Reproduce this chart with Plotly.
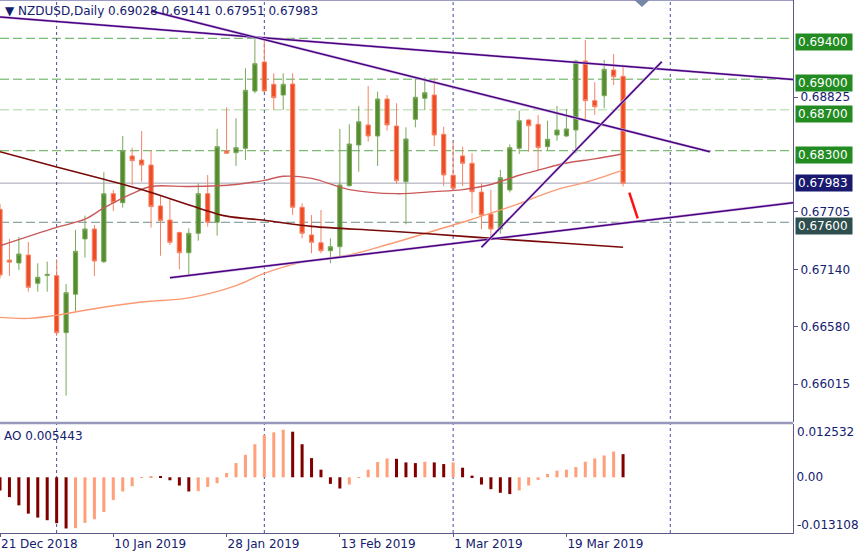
import plotly.graph_objects as go

# ---------------- data ----------------
dates = ["2018-12-21", "2018-12-24", "2018-12-26", "2018-12-27", "2018-12-28", "2018-12-31",
         "2019-01-02", "2019-01-03", "2019-01-04", "2019-01-07", "2019-01-08", "2019-01-09",
         "2019-01-10", "2019-01-11", "2019-01-14", "2019-01-15", "2019-01-16", "2019-01-17",
         "2019-01-18", "2019-01-21", "2019-01-22", "2019-01-23", "2019-01-24", "2019-01-25",
         "2019-01-28", "2019-01-29", "2019-01-30", "2019-01-31", "2019-02-01", "2019-02-04",
         "2019-02-05", "2019-02-06", "2019-02-07", "2019-02-08", "2019-02-11", "2019-02-12",
         "2019-02-13", "2019-02-14", "2019-02-15", "2019-02-18", "2019-02-19", "2019-02-20",
         "2019-02-21", "2019-02-22", "2019-02-25", "2019-02-26", "2019-02-27", "2019-02-28",
         "2019-03-01", "2019-03-04", "2019-03-05", "2019-03-06", "2019-03-07", "2019-03-08",
         "2019-03-11", "2019-03-12", "2019-03-13", "2019-03-14", "2019-03-15", "2019-03-18",
         "2019-03-19", "2019-03-20", "2019-03-21", "2019-03-22", "2019-03-25", "2019-03-26",
         "2019-03-27"]

opens = [0.67727, 0.67230, 0.67202, 0.67280, 0.67003, 0.67080, 0.67078, 0.66520, 0.66896, 0.67437,
         0.67534, 0.67215, 0.67880, 0.67792, 0.68249, 0.68209, 0.68160, 0.67760, 0.67622, 0.67500,
         0.67302, 0.67492, 0.67880, 0.67600, 0.68298, 0.68281, 0.68324, 0.68884, 0.69168, 0.68950,
         0.68845, 0.68953, 0.67747, 0.67476, 0.67400, 0.67322, 0.67361, 0.67958, 0.68356, 0.68552,
         0.68444, 0.68806, 0.68542, 0.67997, 0.68608, 0.68813, 0.68845, 0.68461, 0.68060, 0.68249,
         0.68177, 0.67896, 0.67681, 0.67534, 0.67916, 0.68324, 0.68601, 0.68559, 0.68340, 0.68454,
         0.68444, 0.68503, 0.69178, 0.68790, 0.68838, 0.69090, 0.69028]
highs = [0.67780, 0.67437, 0.67456, 0.67407, 0.67199, 0.67215, 0.67238, 0.66996, 0.67525, 0.67665,
         0.67574, 0.68090, 0.67916, 0.68444, 0.68330, 0.68493, 0.68300, 0.67860, 0.67828, 0.67510,
         0.67541, 0.67982, 0.68063, 0.68513, 0.68725, 0.68617, 0.69107, 0.69400, 0.69422, 0.69058,
         0.69058, 0.69058, 0.67786, 0.67671, 0.67720, 0.67443, 0.68513, 0.68559, 0.68738, 0.68933,
         0.68878, 0.68845, 0.68764, 0.68529, 0.69024, 0.69018, 0.69009, 0.68535, 0.68389, 0.68340,
         0.68275, 0.67986, 0.67916, 0.68112, 0.68363, 0.68692, 0.68608, 0.68650, 0.68594, 0.68738,
         0.68708, 0.69185, 0.69383, 0.68970, 0.69188, 0.69246, 0.69141]
lows = [0.67050, 0.67075, 0.67133, 0.66921, 0.66921, 0.66921, 0.66488, 0.65904, 0.66725, 0.67254,
        0.67075, 0.67200, 0.67710, 0.67743, 0.67965, 0.67997, 0.67547, 0.67273, 0.67378, 0.67140,
        0.67084, 0.67420, 0.67557, 0.67469, 0.68270, 0.68151, 0.68210, 0.68862, 0.68880, 0.68699,
        0.68699, 0.67671, 0.67443, 0.67297, 0.67297, 0.67199, 0.67264, 0.67948, 0.68095, 0.68389,
        0.68151, 0.68496, 0.67975, 0.67580, 0.68529, 0.68699, 0.68346, 0.67955, 0.67923, 0.67955,
        0.67688, 0.67531, 0.67453, 0.67486, 0.67893, 0.68268, 0.68291, 0.68105, 0.68307, 0.68398,
        0.68432, 0.68275, 0.68584, 0.68650, 0.68715, 0.68943, 0.67951]
closes = [0.67084, 0.67210, 0.67290, 0.66964, 0.67062, 0.67090, 0.66520, 0.66911, 0.67316, 0.67534,
          0.67221, 0.67880, 0.67792, 0.68300, 0.68203, 0.68160, 0.67753, 0.67616, 0.67404, 0.67302,
          0.67492, 0.67880, 0.67600, 0.68340, 0.68275, 0.68330, 0.68891, 0.69152, 0.68884, 0.68819,
          0.68950, 0.67747, 0.67492, 0.67404, 0.67322, 0.67361, 0.67965, 0.68366, 0.68584, 0.68444,
          0.68806, 0.68552, 0.68007, 0.68415, 0.68823, 0.68868, 0.68454, 0.68063, 0.67933, 0.68177,
          0.67899, 0.67671, 0.67534, 0.68036, 0.68330, 0.68594, 0.68545, 0.68330, 0.68412, 0.68503,
          0.68513, 0.69178, 0.68790, 0.68731, 0.69097, 0.69024, 0.67983]

ao_values = [-0.00311, -0.00466, -0.00660, -0.00855, -0.00948, -0.01010, -0.01080, -0.01204, -0.01197, -0.01072,
             -0.00987, -0.00816, -0.00536, -0.00334, -0.00210, -0.00016, 0.00031, 0.00016, -0.00070, -0.00194,
             -0.00334, -0.00326, -0.00225, -0.00140, 0.00101, 0.00334, 0.00528, 0.00777, 0.00995, 0.01057,
             0.01119, 0.01072, 0.00777, 0.00451, 0.00179, -0.00155, -0.00264, -0.00171, -0.00016, 0.00179,
             0.00357, 0.00443, 0.00435, 0.00350, 0.00334, 0.00365, 0.00350, 0.00311, 0.00350, 0.00225,
             0.00039, -0.00171, -0.00280, -0.00365, -0.00396, -0.00311, -0.00194, -0.00062, 0.00078, 0.00155,
             0.00179, 0.00241, 0.00365, 0.00443, 0.00513, 0.00606, 0.005443]

# moving averages (bar index, value)
ma_slow_idx = [0, 6, 11, 15, 21, 24, 28, 33, 40, 45, 54, 59, 66]
ma_slow = [0.6829, 0.6814, 0.6802, 0.6792, 0.6774, 0.6766, 0.6762, 0.6756, 0.6752, 0.6749, 0.6743, 0.6740, 0.67355]
ma_mid_idx = [0, 6, 9, 11, 14, 16, 20, 25, 28, 30, 33, 37, 42, 46, 49, 52, 55, 57, 60, 63, 66]
ma_mid = [0.6737, 0.6755, 0.6763, 0.6774, 0.6788, 0.6795, 0.6795, 0.6797, 0.6801, 0.6805, 0.6803,
          0.6792, 0.6788, 0.6790, 0.6792, 0.6797, 0.6806, 0.6811, 0.6818, 0.6822, 0.6827]
ma_long_idx = [0, 3, 6, 9, 15, 20, 25, 28, 32, 37, 41, 45, 50, 54, 59, 62, 66]
ma_long = [0.6667, 0.6666, 0.6669, 0.6674, 0.6682, 0.6686, 0.6698, 0.6710, 0.6721, 0.6728, 0.6738,
           0.6749, 0.6763, 0.6775, 0.6792, 0.6799, 0.6811]

# trend lines: (start index, start price, end index, end price)
trend_lines = [(0.0, 0.69608, 84.0, 0.68997),
               (16.0, 0.69667, 75.2, 0.68291),
               (18.0, 0.67058, 84.0, 0.67792),
               (51.0, 0.67355, 70.1, 0.69171)]
red_stroke = (66.66, 0.67890, 67.55, 0.67639)

# horizontal levels
level_values = [0.69400, 0.69000, 0.68700, 0.68300, 0.67983, 0.67600]
level_labels = ["0.69400", "0.69000", "0.68700", "0.68300", "0.67983", "0.67600"]
level_line_colors = ["#5aaa50", "#5aaa50", "#a8d6a0", "#5aaa50", "#a2a2b2", "#6f8d8d"]
level_dash = ["9px,4px", "9px,4px", "9px,4px", "9px,4px", "solid", "9px,4px"]
level_box_colors = ["#228b22", "#228b22", "#228b22", "#228b22", "#191970", "#2f4f4f"]
level_box_shift = [-4, -4, -4, -4, 0, -4]

price_ticks = [0.68825, 0.67705, 0.67140, 0.66580, 0.66015]
price_tick_text = ["0.68825", "0.67705", "0.67140", "0.66580", "0.66015"]
ao_max, ao_min = 0.012532, -0.013108

date_tick_idx = [0, 12, 24, 36, 48, 60]
date_tick_text = ["21 Dec 2018", "10 Jan 2019", "28 Jan 2019", "13 Feb 2019", "1 Mar 2019", "19 Mar 2019"]
separator_idx = [6, 28, 48, 71]
shift_marker_idx = 68

title_text = "▼ NZDUSD,Daily 0.69028 0.69141 0.67951 0.67983"
ao_text = "AO 0.005443"

# ---------------- style ----------------
NAVY = "#14206e"
AXIS = "#5a5a8a"
FONT = "DejaVu Sans"
x_idx = list(range(len(dates)))

fig = go.Figure()

fig.add_trace(go.Candlestick(
    x=x_idx, open=opens, high=highs, low=lows, close=closes,
    hovertext=dates, hoverinfo="text",
    increasing=dict(line=dict(color="#79a85a", width=1), fillcolor="#558c2d"),
    decreasing=dict(line=dict(color="#f48466", width=1), fillcolor="#ef4b24"),
    xaxis="x", yaxis="y", showlegend=False))

fig.add_trace(go.Scatter(x=ma_long_idx, y=ma_long, mode="lines", line=dict(color="#fb9a72", width=1.4, shape="spline"),
                         xaxis="x", yaxis="y", hoverinfo="skip"))
fig.add_trace(go.Scatter(x=ma_mid_idx, y=ma_mid, mode="lines", line=dict(color="#c9595a", width=1.4, shape="spline"),
                         xaxis="x", yaxis="y", hoverinfo="skip"))
fig.add_trace(go.Scatter(x=ma_slow_idx, y=ma_slow, mode="lines", line=dict(color="#7a0a0a", width=1.6, shape="spline"),
                         xaxis="x", yaxis="y", hoverinfo="skip"))

for (x0, y0, x1, y1) in trend_lines:
    fig.add_trace(go.Scatter(x=[x0, x1], y=[y0, y1], mode="lines",
                             line=dict(color="#cdbbe2", width=2.6), xaxis="x", yaxis="y", hoverinfo="skip"))
    fig.add_trace(go.Scatter(x=[x0, x1], y=[y0, y1], mode="lines",
                             line=dict(color="#4b0082", width=1.5), xaxis="x", yaxis="y", hoverinfo="skip"))

fig.add_trace(go.Scatter(x=[red_stroke[0], red_stroke[2]], y=[red_stroke[1], red_stroke[3]], mode="lines",
                         line=dict(color="#ff1010", width=2.5), xaxis="x", yaxis="y", hoverinfo="skip"))

ao_colors = []
for i, v in enumerate(ao_values):
    up = i > 0 and v > ao_values[i - 1]
    ao_colors.append("#ffa07a" if up else "#800000")
fig.add_trace(go.Bar(x=x_idx, y=ao_values, width=0.32, marker=dict(color=ao_colors, line=dict(width=0)),
                     xaxis="x2", yaxis="y2", hoverinfo="skip"))

# ---------------- shapes ----------------
shapes = []
for v, c, d in zip(level_values, level_line_colors, level_dash):
    shapes.append(dict(type="line", xref="x domain", yref="y", x0=0, x1=1, y0=v, y1=v,
                       line=dict(color=c, width=1, dash=d), layer="below"))
for s in separator_idx:
    shapes.append(dict(type="line", xref="x", yref="paper", x0=s, x1=s, y0=0, y1=1,
                       line=dict(color="#4a4a9a", width=1, dash="dot"), layer="below"))
# panel separator and top border
shapes.append(dict(type="line", xref="paper", yref="paper", x0=0, x1=1, y0=0.2064, y1=0.2064,
                   line=dict(color="#9797bb", width=2.5)))
shapes.append(dict(type="line", xref="paper", yref="paper", x0=0, x1=1, y0=0.999, y1=0.999,
                   line=dict(color="#9a9ac0", width=1)))
# chart-shift marker
shapes.append(dict(type="path", xref="x", yref="paper",
                   path=f"M {shift_marker_idx - 0.8},1 L {shift_marker_idx + 0.8},1 L {shift_marker_idx},0.987 Z",
                   fillcolor="#7686a6", line=dict(width=0)))

# ---------------- annotations ----------------
ann = []
for v, t, bc, sh in zip(level_values, level_labels, level_box_colors, level_box_shift):
    ann.append(dict(xref="paper", yref="y", x=1, y=v, xanchor="left", yanchor="middle", xshift=2, yshift=sh,
                    text=t, showarrow=False, bgcolor=bc, font=dict(family=FONT, size=12, color="white"),
                    width=52, height=12, borderpad=2, align="left"))
ann.append(dict(xref="paper", yref="y2", x=1, y=ao_max, xanchor="left", yanchor="top", xshift=2, yshift=1,
                text=f"{ao_max:.6f}", showarrow=False, font=dict(family=FONT, size=12, color=NAVY)))
ann.append(dict(xref="paper", yref="y2", x=1, y=ao_min, xanchor="left", yanchor="bottom", xshift=2, yshift=-1,
                text=f"{ao_min:.6f}", showarrow=False, font=dict(family=FONT, size=12, color=NAVY)))
ann.append(dict(xref="paper", yref="paper", x=0, y=1, xanchor="left", yanchor="top", xshift=3, yshift=-2,
                text=title_text, showarrow=False, font=dict(family=FONT, size=12, color=NAVY)))
ann.append(dict(xref="paper", yref="paper", x=0, y=0.2045, xanchor="left", yanchor="top", xshift=2, yshift=-3,
                text=ao_text, showarrow=False, font=dict(family=FONT, size=12, color=NAVY)))

fig.update_layout(
    width=860, height=556,
    margin=dict(l=0, r=67, t=0, b=23),
    paper_bgcolor="white", plot_bgcolor="white",
    showlegend=False, boxgap=0.36,
    font=dict(family=FONT, size=12, color=NAVY),
    shapes=shapes, annotations=ann,
    xaxis=dict(domain=[0, 1], anchor="y", range=[0, 84], showticklabels=False, ticks="",
               showgrid=False, zeroline=False, showline=False, rangeslider=dict(visible=False)),
    xaxis2=dict(domain=[0, 1], anchor="y2", matches="x", range=[0, 84],
                tickmode="array", tickvals=date_tick_idx, ticktext=date_tick_text,
                ticks="outside", ticklen=3, tickcolor=AXIS, ticklabelposition="outside right",
                showline=True, linecolor=AXIS, linewidth=1, showgrid=False, zeroline=False,
                tickfont=dict(family=FONT, size=12, color=NAVY)),
    yaxis=dict(domain=[0.2083, 1], anchor="x", side="right", range=[0.656463, 0.697747],
               tickmode="array", tickvals=price_ticks, ticktext=price_tick_text,
               ticks="outside", ticklen=4, tickcolor=AXIS, showline=True, linecolor=AXIS, linewidth=1,
               showgrid=False, zeroline=False, tickfont=dict(family=FONT, size=12, color=NAVY)),
    yaxis2=dict(domain=[0, 0.2045], anchor="x2", side="right", range=[ao_min, ao_max],
                tickmode="array", tickvals=[0], ticktext=["0.00"], ticks="",
                showline=True, linecolor=AXIS, linewidth=1, showgrid=False, zeroline=False,
                tickfont=dict(family=FONT, size=12, color=NAVY)),
)

fig.write_html("out.html", config={"displayModeBar": False},
               post_script="document.body.style.margin='0px';document.body.style.overflow='hidden';")
